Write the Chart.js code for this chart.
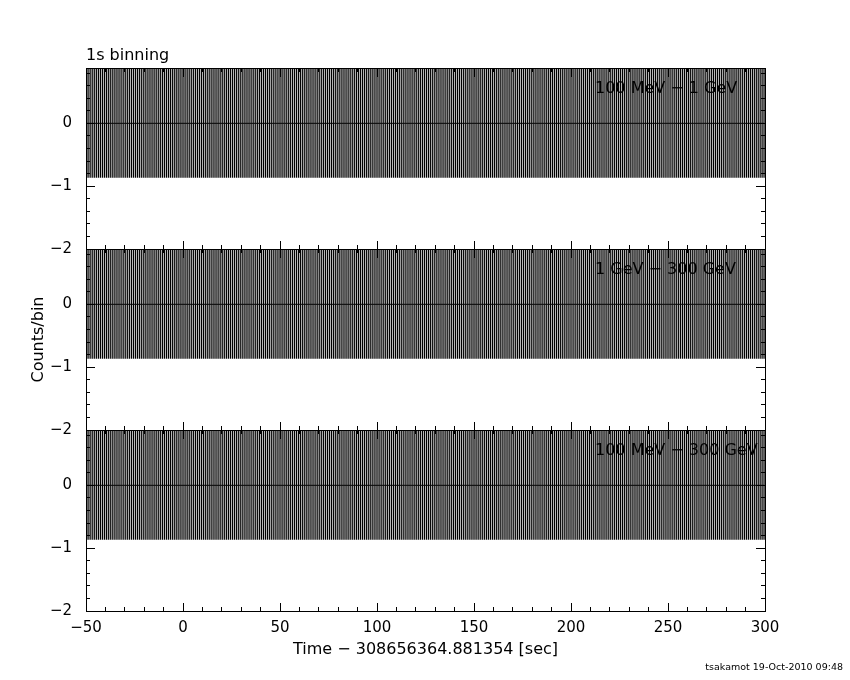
<!DOCTYPE html>
<html>
<head>
<meta charset="utf-8">
<script src="https://cdn.jsdelivr.net/npm/chart.js@4.4.0/dist/chart.umd.min.js"></script>
<style>
  html, body { margin: 0; padding: 0; background: #fff; }
  #wrap { position: relative; width: 850px; height: 680px; }
  #wrap canvas { position: absolute; left: 0; top: 0; }
</style>
</head>
<body>
<div id="wrap">
  <canvas id="panel1" width="850" height="680"></canvas>
  <canvas id="panel2" width="850" height="680"></canvas>
  <canvas id="panel3" width="850" height="680"></canvas>
</div>
<script>
    "use strict";

    // energy bands, one panel each (top to bottom)
    const bandLabels = ['100 MeV \u2212 1 GeV', '1 GeV \u2212 300 GeV', '100 MeV \u2212 300 GeV'];

    // 1s bins starting at T-50 s; every bin of every band reads 0 counts
    const binStart = -50;
    const binWidth = 1;
    const counts = [
        0,0,0,0,0,0,0,0,0,0, 0,0,0,0,0,0,0,0,0,0, 0,0,0,0,0,0,0,0,0,0, 0,0,0,0,0,0,0,0,0,0, 0,0,0,0,0,0,0,0,0,0,  // -50 .. 0
        0,0,0,0,0,0,0,0,0,0, 0,0,0,0,0,0,0,0,0,0, 0,0,0,0,0,0,0,0,0,0, 0,0,0,0,0,0,0,0,0,0, 0,0,0,0,0,0,0,0,0,0,  // 0 .. 50
        0,0,0,0,0,0,0,0,0,0, 0,0,0,0,0,0,0,0,0,0, 0,0,0,0,0,0,0,0,0,0, 0,0,0,0,0,0,0,0,0,0, 0,0,0,0,0,0,0,0,0,0,  // 50 .. 100
        0,0,0,0,0,0,0,0,0,0, 0,0,0,0,0,0,0,0,0,0, 0,0,0,0,0,0,0,0,0,0, 0,0,0,0,0,0,0,0,0,0, 0,0,0,0,0,0,0,0,0,0,  // 100 .. 150
        0,0,0,0,0,0,0,0,0,0, 0,0,0,0,0,0,0,0,0,0, 0,0,0,0,0,0,0,0,0,0, 0,0,0,0,0,0,0,0,0,0, 0,0,0,0,0,0,0,0,0,0,  // 150 .. 200
        0,0,0,0,0,0,0,0,0,0, 0,0,0,0,0,0,0,0,0,0, 0,0,0,0,0,0,0,0,0,0, 0,0,0,0,0,0,0,0,0,0, 0,0,0,0,0,0,0,0,0,0,  // 200 .. 250
        0,0,0,0,0,0,0,0,0,0, 0,0,0,0,0,0,0,0,0,0, 0,0,0,0,0,0,0,0,0,0, 0,0,0,0,0,0,0,0,0,0, 0,0,0,0,0,0,0,0,0,0   // 250 .. 300
    ];
    const countErr = 0.866;   // half length of each error bar

    const xTicks = [-50, 0, 50, 100, 150, 200, 250, 300];
    const yTicks = [-2, -1, 0];
    const xMin = -50, xMax = 300;
    const yMin = -2, yMax = 0.88;

    const xTitle = 'Time \u2212 308656364.881354 [sec]';
    const yTitle = 'Counts/bin';
    const topNote = '1s binning';
    const footNote = 'tsakamot 19-Oct-2010 09:48';

    Chart.defaults.font.family = '"DejaVu Sans", sans-serif';
    Chart.defaults.font.size = 15;
    Chart.defaults.color = '#000';

    const panelTops = [68, 249, 430];
    const panelH = 181;

    function fmtNum(v) {
        return v < 0 ? '\u2212' + Math.abs(v) : String(v);
    }

    // axis used only for its inward tick marks
    function tickAxis(axis, pos, step, len, border) {
        let lim = axis === 'x' ? { min: xMin, max: xMax } : { min: yMin, max: yMax };
        return Object.assign({
            type: 'linear', axis: axis, position: pos, offset: false,
            ticks: { display: false, stepSize: step, includeBounds: false, maxTicksLimit: 100 },
            grid: { drawOnChartArea: false, offset: false, color: '#000', tickLength: len },
            border: { display: border, color: '#000', width: 1 }
        }, lim);
    }

    // band name inside the panel, footer under the last one
    const panelText = {
        id: 'panelText',
        afterDatasetsDraw(chart, args, opts) {
            let ctx = chart.ctx, area = chart.chartArea;
            ctx.save();
            ctx.fillStyle = '#000';
            ctx.textBaseline = 'middle';
            ctx.font = '16px "DejaVu Sans"';
            ctx.fillText(opts.band, area.left + 509, area.top + 21);
            if (opts.footer) {
                ctx.font = '9.5px "DejaVu Sans"';
                ctx.textAlign = 'right';
                ctx.fillText(opts.footer, 843, 668);
            }
            ctx.restore();
        }
    };

    function makePanel(id, idx) {
        let isFirst = idx === 0, isLast = idx === 2;
        let top = panelTops[idx], bottom = top + panelH;

        let centres = counts.map((c, i) => ({ x: binStart + (i + 0.5) * binWidth, y: c }));
        let errBars = counts.map((c, i) => ({ x: binStart + (i + 0.5) * binWidth, y: [c - countErr, c + countErr] }));

        let titleH = isFirst ? 16 * 1.2 + 3 : 0;

        return new Chart(document.getElementById(id), {
            type: 'bar',
            data: {
                datasets: [
                    {
                        type: 'line',
                        data: centres,
                        borderColor: '#000',
                        borderWidth: 1,
                        pointRadius: 0,
                        tension: 0
                    },
                    {
                        type: 'bar',
                        data: errBars,
                        backgroundColor: '#000',
                        borderWidth: 0,
                        barThickness: 1.25,
                        inflateAmount: 0,
                        grouped: false
                    }
                ]
            },
            options: {
                responsive: false,
                animation: false,
                events: [],
                layout: {
                    padding: {
                        left: 0,
                        right: 85,
                        top: top - titleH,
                        bottom: isLast ? 0 : 680 - bottom
                    }
                },
                plugins: {
                    legend: { display: false },
                    tooltip: { enabled: false },
                    title: {
                        display: isFirst,
                        text: topNote,
                        align: 'start',
                        fullSize: false,
                        color: '#000',
                        font: { size: 16, weight: 'normal' },
                        padding: { top: 0, bottom: 3 }
                    },
                    panelText: { band: bandLabels[idx], footer: isLast ? footNote : null }
                },
                scales: {
                    x: {
                        type: 'linear', position: 'bottom', min: xMin, max: xMax, offset: false,
                        afterFit: s => { s.height = isLast ? 680 - bottom : 0; },
                        afterBuildTicks: s => { s.ticks = xTicks.map(v => ({ value: v })); },
                        ticks: { display: isLast, padding: 16, autoSkip: false, maxRotation: 0, callback: v => fmtNum(v) },
                        grid: { drawOnChartArea: false, offset: false, color: '#000', tickLength: -8 },
                        border: { color: '#000', width: 1 },
                        title: {
                            display: isLast, text: xTitle, color: '#000',
                            font: { size: 16 }, padding: { top: 0, bottom: 21 }
                        }
                    },
                    y: {
                        type: 'linear', position: 'left', min: yMin, max: yMax,
                        afterFit: s => { s.width = 86; },
                        afterBuildTicks: s => { s.ticks = yTicks.map(v => ({ value: v })); },
                        ticks: { padding: 23, callback: v => fmtNum(v) },
                        grid: { drawOnChartArea: false, color: '#000', tickLength: -9 },
                        border: { color: '#000', width: 1 },
                        title: {
                            display: idx === 1, text: yTitle, color: '#000',
                            font: { size: 16 }, padding: { top: 29, bottom: 0 }
                        }
                    },
                    xMinB: tickAxis('x', { y: yMin }, 10, -4, false),
                    xTop: tickAxis('x', { y: yMax }, 50, 8, true),
                    xMinT: tickAxis('x', { y: yMax }, 10, 4, false),
                    yMinL: tickAxis('y', { x: xMin }, 0.2, -4, false),
                    yRight: tickAxis('y', { x: xMax }, 1, 9, true),
                    yMinR: tickAxis('y', { x: xMax }, 0.2, 4, false)
                }
            },
            plugins: [panelText]
        });
    }

    makePanel('panel1', 0);
    makePanel('panel2', 1);
    makePanel('panel3', 2);
</script>
</body>
</html>
